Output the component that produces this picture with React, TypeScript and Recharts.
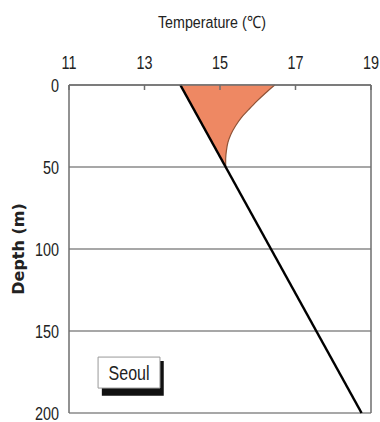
import React from 'react';
import {
  ComposedChart,
  Area,
  Line,
  XAxis,
  YAxis,
  CartesianGrid,
  ReferenceLine,
  ReferenceArea,
  Label,
} from 'recharts';

// Temperature axis (top) and depth axis (left, increasing downward)
const tempTicks = [11, 13, 15, 17, 19];
const depthTicks = [0, 50, 100, 150, 200];

// Observed temperature profile: straight gradient with depth
const profileDepth = [0, 200];
const profileTemp = [13.95, 18.75];

// Warm surface layer: [gradient temperature, measured temperature] per depth
const layerDepth = [0, 5, 10, 15, 20, 25, 30, 35, 40, 45, 50];
const layerLow = [13.95, 14.07, 14.19, 14.31, 14.43, 14.55, 14.67, 14.79, 14.91, 15.03, 15.15];
const layerHigh = [16.45, 16.2, 15.97, 15.76, 15.56, 15.41, 15.29, 15.21, 15.17, 15.15, 15.15];

const stationName = 'Seoul';
const tempTitle = 'Temperature (℃)';
const depthTitle = 'Depth (m)';

const profileData = profileDepth.map((depth, i) => ({ depth, temp: profileTemp[i] }));
const layerData = layerDepth.map((depth, i) => ({ depth, band: [layerLow[i], layerHigh[i]] }));

const FONT = "'Liberation Sans', Arial, sans-serif";
const AXIS_GREY = '#6e6e6e';
const TEXT = '#222';
const NARROW = 0.8; // horizontal squeeze for the condensed lettering

// Condensed tick text for the top temperature axis
const TempTick = (props: any) => {
  const { x, y, payload } = props;
  return (
    <g transform={`translate(${x},${y}) scale(${NARROW},1)`}>
      <text x={0} y={-3} textAnchor="middle" fill={TEXT} fontSize={18} fontFamily={FONT}>
        {payload.value}
      </text>
    </g>
  );
};

// Condensed tick text for the left depth axis
const DepthTick = (props: any) => {
  const { x, y, payload } = props;
  return (
    <g transform={`translate(${x},${y}) scale(${NARROW},1)`}>
      <text x={0} y={6.5} textAnchor="end" fill={TEXT} fontSize={18} fontFamily={FONT}>
        {payload.value}
      </text>
    </g>
  );
};

const TempTitle = (props: any) => {
  const { viewBox } = props;
  const cx = viewBox.x + viewBox.width / 2 - 8;
  const cy = viewBox.y - 27;
  return (
    <g transform={`translate(${cx},${cy}) scale(0.84,1)`}>
      <text x={0} y={0} textAnchor="middle" fill={TEXT} fontSize={17} fontFamily={FONT}>
        {tempTitle}
      </text>
    </g>
  );
};

const StationLabel = (props: any) => {
  const { viewBox } = props;
  const cx = viewBox.x + viewBox.width / 2;
  const cy = viewBox.y + viewBox.height / 2;
  return (
    <g transform={`translate(${cx},${cy}) scale(${NARROW},1)`}>
      <text x={0} y={7} textAnchor="middle" fill={TEXT} fontSize={20} fontFamily={FONT}>
        {stationName}
      </text>
    </g>
  );
};

export default function App() {
  return (
    <div style={{ position: 'absolute', left: 0, top: 0 }}>
      <ComposedChart
        width={380}
        height={422}
        layout="vertical"
        margin={{ top: 55, right: 9, bottom: 9, left: 0 }}
      >
        <CartesianGrid horizontal vertical={false} stroke="#8a8a8a" strokeWidth={1.5} />
        <XAxis
          type="number"
          orientation="top"
          domain={[11, 19]}
          ticks={tempTicks}
          allowDataOverflow
          height={30}
          tickSize={-5}
          tickMargin={18}
          stroke={AXIS_GREY}
          strokeWidth={1.5}
          tick={<TempTick />}
        >
          <Label content={<TempTitle />} position="top" />
        </XAxis>
        <YAxis
          type="number"
          dataKey="depth"
          domain={[0, 200]}
          ticks={depthTicks}
          width={69}
          tickSize={0}
          tickMargin={10}
          stroke={AXIS_GREY}
          strokeWidth={1.5}
          tick={<DepthTick />}
          label={{
            value: depthTitle,
            angle: -90,
            position: 'insideLeft',
            offset: 18,
            style: {
              textAnchor: 'middle',
              fontWeight: 'bold',
              fontSize: 16,
              fill: TEXT,
              fontFamily: "'DejaVu Sans', sans-serif",
            },
          }}
        />
        <ReferenceLine x={19} stroke={AXIS_GREY} strokeWidth={1.5} />
        <Area
          data={layerData}
          dataKey="band"
          type="monotone"
          fill="#ee8863"
          fillOpacity={1}
          stroke="#8f5236"
          strokeWidth={1.2}
          isAnimationActive={false}
        />
        <Line
          data={profileData}
          dataKey="temp"
          type="linear"
          stroke="#000"
          strokeWidth={2.5}
          dot={false}
          isAnimationActive={false}
        />
        {/* station tag: drop shadow, then the white box */}
        <ReferenceArea x1={11.87} x2={13.51} y1={168.3} y2={189.5} fill="#111" fillOpacity={1} stroke="none" />
        <ReferenceArea
          x1={11.77}
          x2={13.41}
          y1={165.9}
          y2={184.8}
          fill="#fff"
          fillOpacity={1}
          stroke="#999"
          strokeWidth={1}
        >
          <Label content={<StationLabel />} />
        </ReferenceArea>
      </ComposedChart>
    </div>
  );
}
